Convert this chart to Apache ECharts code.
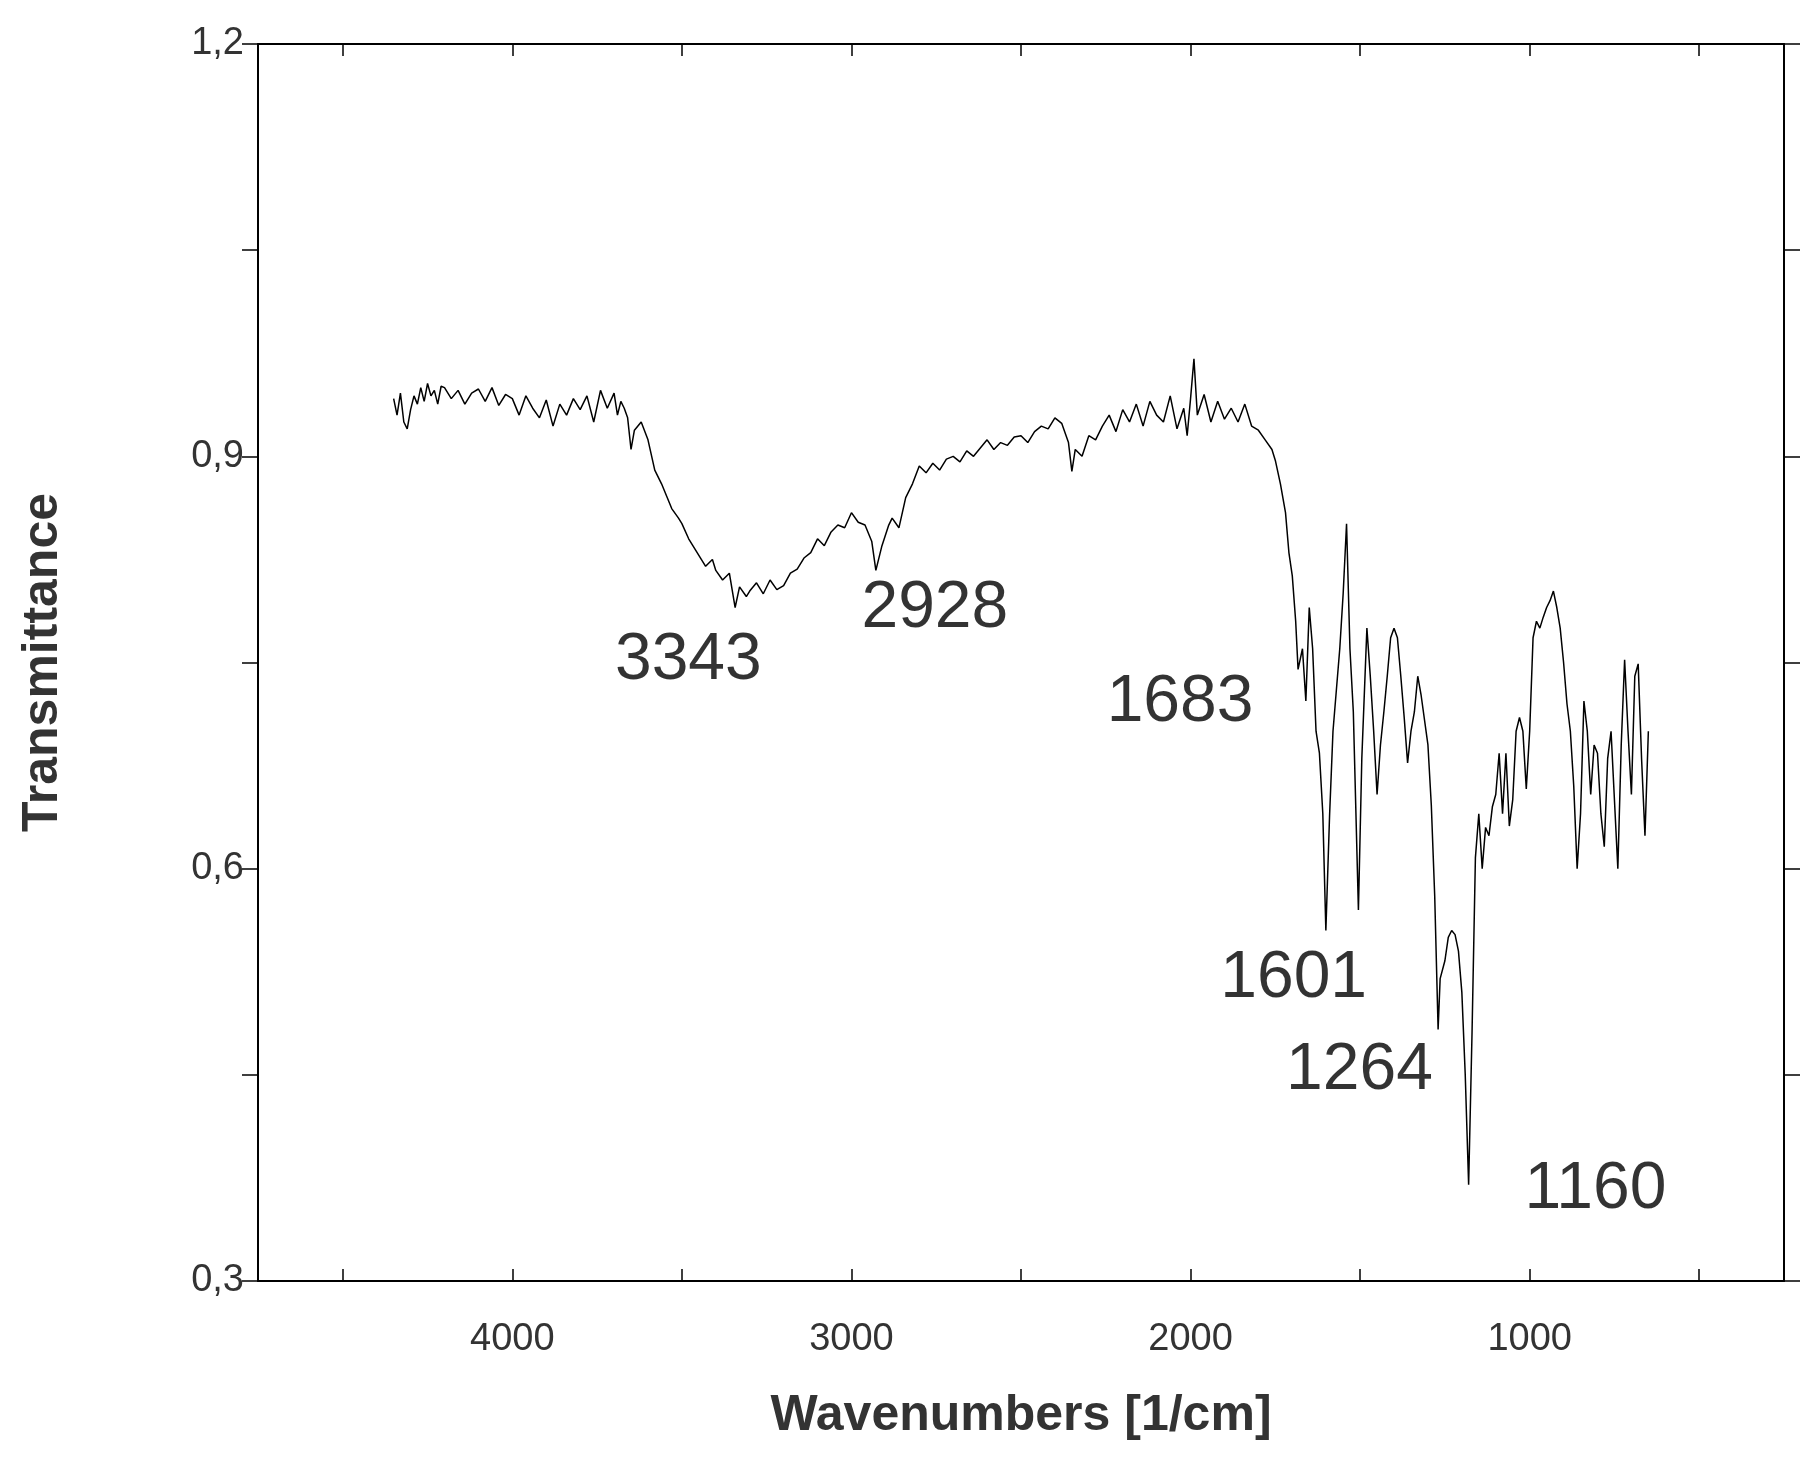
<!DOCTYPE html>
<html><head><meta charset="utf-8">
<script src="https://cdn.jsdelivr.net/npm/echarts@6/dist/echarts.min.js"></script>
<style>html,body{margin:0;padding:0;background:#fff}#c{width:1819px;height:1481px}</style>
</head><body><div id="c"></div>
<script>
const wavenumbers = [4350,4340,4330,4320,4310,4300,4290,4280,4270,4260,4250,4240,4230,4220,4210,4200,4180,4160,4140,4120,4100,4080,4060,4040,4020,4000,3980,3960,3940,3920,3900,3880,3860,3840,3820,3800,3780,3760,3740,3720,3700,3690,3680,3670,3660,3650,3640,3620,3600,3580,3560,3550,3530,3510,3500,3480,3460,3450,3430,3410,3400,3380,3360,3343,3330,3310,3300,3280,3260,3240,3220,3200,3180,3160,3140,3120,3100,3080,3060,3040,3020,3000,2980,2960,2940,2928,2910,2890,2880,2860,2840,2820,2800,2780,2760,2740,2720,2700,2680,2660,2640,2620,2600,2580,2560,2540,2520,2500,2480,2460,2440,2420,2400,2380,2360,2350,2340,2320,2300,2280,2260,2240,2220,2200,2180,2160,2140,2120,2100,2080,2060,2040,2020,2010,2000,1990,1980,1960,1940,1920,1900,1880,1860,1840,1820,1800,1780,1760,1750,1735,1720,1710,1700,1690,1683,1670,1660,1650,1640,1630,1620,1610,1601,1590,1580,1570,1560,1550,1540,1530,1520,1505,1495,1480,1470,1460,1450,1440,1430,1420,1410,1400,1390,1380,1370,1360,1350,1340,1330,1320,1300,1290,1280,1270,1264,1250,1240,1230,1220,1210,1200,1190,1180,1170,1160,1150,1140,1130,1120,1110,1100,1090,1080,1070,1060,1050,1040,1030,1020,1010,1000,990,980,970,960,950,940,930,920,910,900,890,880,870,860,850,840,830,820,810,800,790,780,770,760,750,740,730,720,710,700,690,680,670,660,650,640,630,620,615];
const transmittance = [0.942,0.930,0.946,0.925,0.920,0.934,0.944,0.938,0.950,0.940,0.953,0.944,0.948,0.938,0.951,0.950,0.942,0.948,0.938,0.946,0.949,0.940,0.950,0.937,0.945,0.942,0.930,0.944,0.935,0.928,0.941,0.922,0.938,0.930,0.942,0.934,0.944,0.925,0.948,0.935,0.946,0.930,0.940,0.935,0.928,0.905,0.919,0.925,0.912,0.890,0.880,0.874,0.862,0.855,0.851,0.840,0.832,0.828,0.820,0.825,0.817,0.810,0.815,0.790,0.805,0.798,0.802,0.808,0.800,0.810,0.803,0.806,0.815,0.818,0.826,0.830,0.840,0.835,0.845,0.850,0.848,0.859,0.852,0.850,0.838,0.817,0.835,0.850,0.855,0.848,0.870,0.880,0.893,0.888,0.895,0.890,0.898,0.900,0.896,0.904,0.900,0.906,0.912,0.905,0.910,0.908,0.914,0.915,0.910,0.918,0.922,0.920,0.928,0.924,0.910,0.889,0.905,0.900,0.915,0.912,0.922,0.930,0.918,0.934,0.925,0.938,0.922,0.940,0.930,0.925,0.944,0.920,0.935,0.915,0.942,0.971,0.930,0.945,0.925,0.940,0.927,0.935,0.925,0.938,0.922,0.919,0.912,0.905,0.897,0.880,0.859,0.830,0.813,0.780,0.745,0.760,0.722,0.790,0.760,0.700,0.684,0.640,0.555,0.639,0.700,0.730,0.760,0.800,0.851,0.760,0.714,0.570,0.680,0.775,0.740,0.700,0.654,0.690,0.714,0.740,0.768,0.775,0.768,0.740,0.710,0.677,0.700,0.714,0.740,0.726,0.690,0.646,0.580,0.483,0.520,0.533,0.550,0.555,0.552,0.540,0.510,0.450,0.370,0.480,0.608,0.640,0.600,0.630,0.624,0.645,0.654,0.684,0.640,0.684,0.631,0.650,0.700,0.710,0.700,0.658,0.700,0.768,0.780,0.775,0.783,0.790,0.795,0.802,0.790,0.775,0.750,0.720,0.700,0.660,0.600,0.640,0.722,0.700,0.654,0.690,0.684,0.640,0.616,0.680,0.700,0.650,0.600,0.690,0.752,0.700,0.654,0.740,0.749,0.680,0.624,0.700];
const peakLabels = ['3343','2928','1683','1601','1264','1160'];
const peakLabelPos = [[3481,0.751],[2754,0.789],[2031,0.721],[1696,0.52],[1502,0.453],[806,0.366]];
const xTickValues = [500,1000,1500,2000,2500,3000,3500,4000,4500];
const xLabelValues = [1000,2000,3000,4000];
const yTicks = {0.3:'0,3',0.6:'0,6',0.9:'0,9',1.2:'1,2'};

const chart = echarts.init(document.getElementById('c'));
const axisCommon = {axisLine:{lineStyle:{color:'#000',width:2}},splitLine:{show:false}};
chart.setOption({
  animation:false,
  grid:{left:258,right:35,top:44,bottom:200},
  xAxis:[
    Object.assign({type:'value',min:250,max:4750,inverse:true,
      axisTick:{inside:true,length:12,customValues:xTickValues,lineStyle:{color:'#000',width:1.5}},
      axisLabel:{fontSize:38,color:'#333',fontFamily:'Liberation Sans',margin:40,customValues:xLabelValues,formatter:v=>String(v)},
      name:'Wavenumbers [1/cm]',nameLocation:'middle',nameGap:110,
      nameTextStyle:{fontSize:50,fontWeight:'bold',color:'#333',fontFamily:'Liberation Sans'}},axisCommon),
    Object.assign({type:'value',position:'top',min:250,max:4750,inverse:true,
      axisTick:{inside:true,length:12,customValues:xTickValues,lineStyle:{color:'#000',width:1.5}},axisLabel:{show:false}},axisCommon)
  ],
  yAxis:[
    Object.assign({type:'value',min:0.3,max:1.2,interval:0.15,
      axisTick:{length:16,lineStyle:{color:'#000',width:1.5}},
      axisLabel:{fontSize:38,color:'#333',fontFamily:'Liberation Sans',margin:14,
        formatter:v=>yTicks[Math.round(v*100)/100]||''},
      name:'Transmittance',nameLocation:'middle',nameGap:190,
      nameTextStyle:{fontSize:50,fontWeight:'bold',color:'#333',fontFamily:'Liberation Sans'}},axisCommon),
    Object.assign({type:'value',position:'right',min:0.3,max:1.2,interval:0.15,
      axisTick:{length:16,lineStyle:{color:'#000',width:1.5}},axisLabel:{show:false}},axisCommon)
  ],
  series:[
    {type:'line',data:wavenumbers.map((w,i)=>[w,transmittance[i]]),showSymbol:false,
      lineStyle:{color:'#000',width:1.5}},
    {type:'scatter',symbolSize:0,data:peakLabelPos.map((p,i)=>({value:p,name:peakLabels[i]})),
      label:{show:true,position:'inside',formatter:'{b}',fontSize:66,color:'#000',fontFamily:'Liberation Sans'}}
  ]
});
</script></body></html>
